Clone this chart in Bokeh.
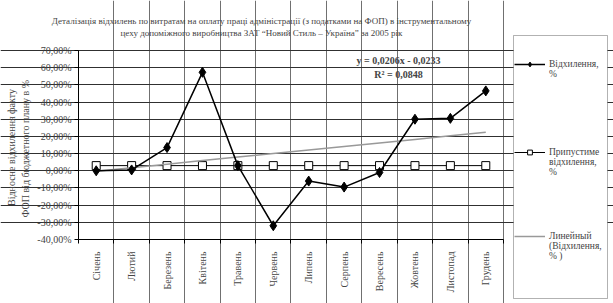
import math
from bokeh.plotting import figure
from bokeh.models import (Range1d, FixedTicker, Label, ColumnDataSource, Legend, LegendItem,
                          BoxAnnotation)
from bokeh.embed import file_html
from bokeh.resources import INLINE

months = ["Січень", "Лютий", "Березень", "Квітень", "Травень", "Червень",
          "Липень", "Серпень", "Вересень", "Жовтень", "Листопад", "Грудень"]
deviation = [0.0, 0.5, 13.5, 57.3, 3.0, -32.0, -6.0, -9.5, -1.0, 30.0, 30.5, 46.5]
allowed = [3.0] * 12
trend_slope = 2.06      # % per month  (y = 0,0206x - 0,0233)
trend_intercept = -2.33
y_ticks = [-40, -30, -20, -10, 0, 10, 20, 30, 40, 50, 60, 70]

FONT = "Liberation Serif"
xs = list(range(1, len(months) + 1))
trend = [trend_slope * x + trend_intercept for x in xs]
x_lo, x_hi = 0.5, 12.5
y_lo, y_hi = -40, 70

# the frame spans the whole canvas; the plot area itself is bounded by the axes/grids
p = figure(width=613, height=303, output_backend="svg", toolbar_location=None,
           x_range=Range1d(-1.7024, 15.606), y_range=Range1d(-77.25, 99.1),
           min_border=0, min_border_left=0, min_border_right=0,
           min_border_top=0, min_border_bottom=0)
p.background_fill_color = "white"
p.border_fill_color = "white"
p.outline_line_color = None

# x axis
p.xaxis.fixed_location = y_lo
p.xaxis.bounds = (x_lo, x_hi)
p.xaxis.ticker = FixedTicker(ticks=xs, minor_ticks=[x + 0.5 for x in range(0, 13)])
p.xaxis.major_label_overrides = {x: m for x, m in zip(xs, months)}
p.xaxis.major_label_orientation = math.pi / 2
p.xaxis.major_tick_line_color = None
p.xaxis.minor_tick_out = 4
p.xaxis.minor_tick_in = 0
p.xaxis.minor_tick_line_color = "black"
p.xaxis.axis_line_color = "black"
p.xaxis.major_label_text_font = FONT
p.xaxis.major_label_text_font_size = "10px"
p.xaxis.major_label_standoff = 6

# y axis
p.yaxis.fixed_location = x_lo
p.yaxis.bounds = (y_lo, y_hi)
p.yaxis.ticker = FixedTicker(ticks=y_ticks)
p.yaxis.major_label_overrides = {t: f"{t},00%" for t in y_ticks}
p.yaxis.major_tick_out = 4
p.yaxis.major_tick_in = 0
p.yaxis.minor_tick_line_color = None
p.yaxis.axis_line_color = "black"
p.yaxis.major_label_text_font = FONT
p.yaxis.major_label_text_font_size = "10px"
p.yaxis.major_label_standoff = 3

p.xgrid.ticker = FixedTicker(ticks=[x + 0.5 for x in range(1, 13)])
p.xgrid.bounds = (y_lo, y_hi)
p.xgrid.grid_line_color = "#707070"
p.ygrid.ticker = FixedTicker(ticks=y_ticks[1:])
p.ygrid.bounds = (x_lo, x_hi)
p.ygrid.grid_line_color = "#303030"

src = ColumnDataSource(dict(x=xs, dev=deviation, allowed=allowed, trend=trend))
r_allowed_line = p.line("x", "allowed", source=src, line_color="black", line_width=1)
r_allowed_pts = p.scatter("x", "allowed", source=src, marker="square", size=8,
                          fill_color="white", line_color="black", line_width=1)
r_trend = p.line("x", "trend", source=src, line_color="#999999", line_width=1.5)
r_dev_line = p.line("x", "dev", source=src, line_color="black", line_width=1.5)
r_dev_pts = p.scatter("x", "dev", source=src, marker="diamond", size=10,
                      fill_color="black", line_color="black")

# title (two lines); screen units are relative to the frame's bottom-left corner
for txt, y in [("Деталізація відхилень по витратам на оплату праці адміністрації (з податками на ФОП) в інструментальному", 283),
               ("цеху допоміжного виробництва ЗАТ “Новий Стиль – Україна” за 2005 рік", 271)]:
    p.add_layout(Label(x=261, y=y, x_units="screen", y_units="screen", text=txt,
                       text_font=FONT, text_font_size="9px", text_align="center",
                       text_baseline="middle"))

# y axis title (two lines, rotated)
for txt, x in [("Відносне відхилення факту", 11), ("ФОП  від бюджетного плану в %", 25)]:
    p.add_layout(Label(x=x, y=156, x_units="screen", y_units="screen", text=txt,
                       angle=math.pi / 2, text_font=FONT, text_font_size="10px",
                       text_align="center", text_baseline="middle"))

# trend equation
for txt, y in [("y = 0,0206x - 0,0233", 243), ("R² = 0,0848", 229)]:
    p.add_layout(Label(x=398, y=y, x_units="screen", y_units="screen", text=txt,
                       text_font=FONT, text_font_size="10px", text_font_style="bold",
                       text_align="center", text_baseline="middle"))

# legend frame
p.add_layout(BoxAnnotation(left=513, right=607, top=268, bottom=5,
                           left_units="screen", right_units="screen",
                           top_units="screen", bottom_units="screen",
                           fill_color="white", fill_alpha=1.0,
                           line_color="black", line_width=1))

# legend entries; blank lines keep each swatch level with the first line of its label
entries = [
    ("\nВідхилення,\n%", [r_dev_line, r_dev_pts], 224.5),
    ("\n\nПрипустиме\nвідхилення,\n%", [r_allowed_line, r_allowed_pts], 126.5),
    ("\n\nЛинейный\n(Відхилення,\n% )", [r_trend], 42),
]
for label, renderers, ybot in entries:
    lg = Legend(items=[LegendItem(label=label, renderers=renderers)], location=(514, ybot))
    lg.label_text_font = FONT
    lg.label_text_font_size = "9.5px"
    lg.label_text_line_height = 1.2
    lg.glyph_width = 31
    lg.glyph_height = 12
    lg.label_height = 12
    lg.label_standoff = 4
    lg.padding = 4
    lg.margin = 0
    lg.border_line_color = None
    lg.background_fill_alpha = 0
    p.add_layout(lg)

open("out.html", "w").write(file_html(p, INLINE))
